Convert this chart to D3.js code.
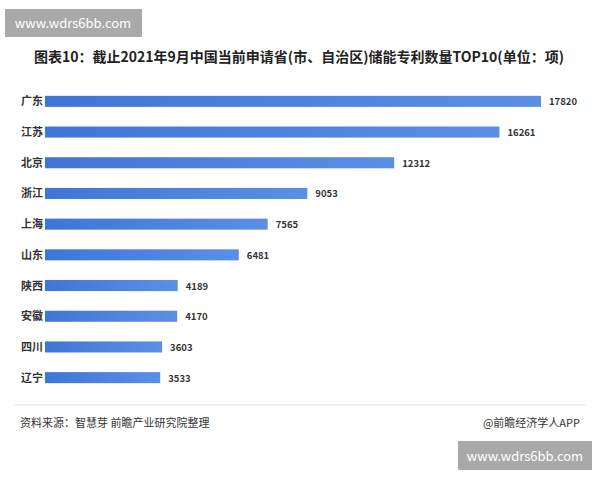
<!DOCTYPE html><html><head><meta charset="utf-8"><script src="https://cdn.jsdelivr.net/npm/d3@7"></script>
<style>body{margin:0;background:#fff}svg{font-family:"Noto Sans CJK SC","Noto Sans",sans-serif}</style></head><body>
<svg id="c" width="600" height="480"></svg>
<script>
const categories=["广东","江苏","北京","浙江","上海","山东","陕西","安徽","四川","辽宁"];
const values=[17820,16261,12312,9053,7565,6481,4189,4170,3603,3533];
const svg=d3.select("#c");
const x=d3.scaleLinear().domain([-790,17820]).range([45,541]);
const y=d3.scaleBand().domain(categories).range([86,393]).paddingInner(0.64).paddingOuter(0.32);
const g=svg.append("defs").append("linearGradient").attr("id","gr");
g.append("stop").attr("offset","0").attr("stop-color","#3f76d6");
g.append("stop").attr("offset","1").attr("stop-color","#5b8fe6");
svg.append("text").attr("x",299).attr("y",62).attr("text-anchor","middle").attr("font-size",14).attr("font-weight","bold").attr("fill","#222").text("图表10：截止2021年9月中国当前申请省(市、自治区)储能专利数量TOP10(单位：项)");
svg.selectAll("rect.b").data(values).join("rect").attr("class","b").attr("x",x(-790)).attr("y",(d,i)=>y(categories[i])).attr("width",d=>x(d)-x(-790)).attr("height",y.bandwidth()).attr("fill","url(#gr)");
svg.selectAll("text.c").data(categories).join("text").attr("class","c").attr("x",21).attr("y",d=>y(d)+y.bandwidth()/2+4).attr("font-size",11).attr("font-weight","bold").attr("fill","#333").text(d=>d);
svg.selectAll("text.v").data(values).join("text").attr("class","v").attr("x",d=>x(d)+8).attr("y",(d,i)=>y(categories[i])+y.bandwidth()/2+4).attr("font-size",9.5).attr("font-weight","bold").attr("fill","#333").text(d=>d);
svg.append("line").attr("x1",15).attr("x2",585).attr("y1",405).attr("y2",405).attr("stroke","#ddd");
svg.append("text").attr("x",20).attr("y",427).attr("font-size",11).attr("fill","#333").text("资料来源：智慧芽 前瞻产业研究院整理");
svg.append("text").attr("x",580).attr("y",427).attr("text-anchor","end").attr("font-size",11).attr("fill","#333").text("@前瞻经济学人APP");
svg.append("rect").attr("x",5).attr("y",9).attr("width",137).attr("height",28).attr("fill","#a9a9a9");
svg.append("text").attr("x",73).attr("y",28).attr("text-anchor","middle").attr("font-size",13).attr("fill","#fff").text("www.wdrs6bb.com");
svg.append("rect").attr("x",458).attr("y",441).attr("width",134).attr("height",29).attr("fill","#a9a9a9");
svg.append("text").attr("x",525).attr("y",461).attr("text-anchor","middle").attr("font-size",13).attr("fill","#fff").text("www.wdrs6bb.com");
</script></body></html>
